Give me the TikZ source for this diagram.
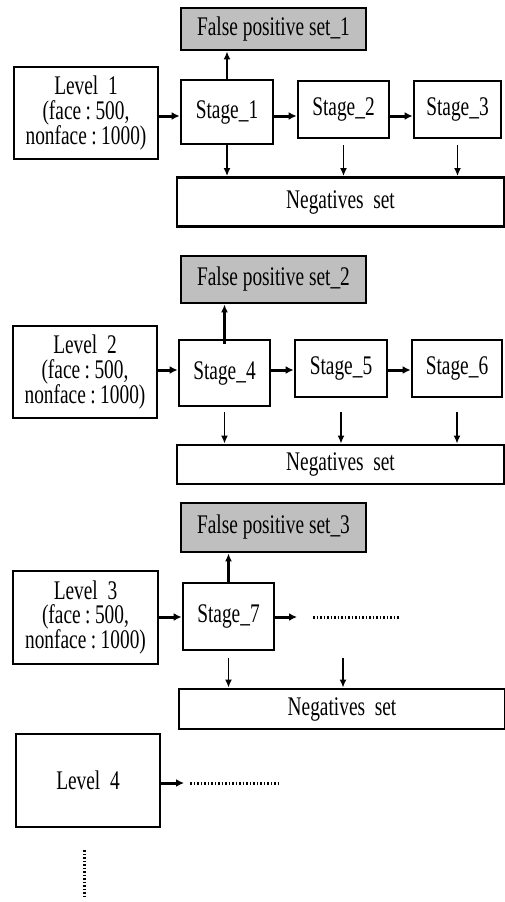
\documentclass[tikz,border=0pt]{standalone}
\usepackage{fontspec}
\setmainfont{Liberation Serif}[FakeStretch=0.72]
\usetikzlibrary{positioning}
\usetikzlibrary{arrows.meta}
\tikzset{blk/.style={draw,line width=2.8bp,inner sep=0pt,align=center,font=\fontsize{27}{25}\selectfont}}
\tikzset{fpblk/.style={blk,fill=gray!50}}
\tikzset{fwd/.style={-{Latex[length=8bp,width=8bp]},line width=3bp}}
\tikzset{fpup/.style={-{Latex[length=8bp,width=7bp]},line width=2.2bp}}
\tikzset{negdown/.style={-{Latex[length=8bp,width=7bp]},line width=1.8bp}}
\tikzset{more/.style={line width=3bp,dash pattern=on 1.5bp off 2bp}}

\begin{document}
\begin{tikzpicture}[x=1bp,y=-1bp]
            \useasboundingbox (0,0) rectangle (505,902);
            % level 1
            \node [fpblk,minimum width=185bp,minimum height=42bp] (fpi) at (273.5,29) {False positive set\_1};
            \node [blk,minimum width=144bp,minimum height=92bp] (levi) at (86,113) {Level~~1\\(face\,:\,500,\\nonface\,:\,1000)};
            \node [blk,minimum width=92bp,minimum height=64bp] (si) at (227,112) {Stage\_1};
            \node [blk,minimum width=91bp,minimum height=57bp] (sii) at (343.5,109.5) {Stage\_2};
            \node [blk,minimum width=87bp,minimum height=57bp] (siii) at (457.5,109.5) {Stage\_3};
            \node [blk,minimum width=327bp,minimum height=49bp] (negi) at (340.5,202) {Negatives~~set};
            \coordinate (ri) at (0,116);
            \draw[fwd] (levi.east |- ri) -- (si.west |- ri);
            \draw[fwd] (si.east |- ri) -- (sii.west |- ri);
            \draw[fwd] (sii.east |- ri) -- (siii.west |- ri);
            \draw[fpup] (si.north) -- (fpi.south -| si.north);
            \draw[negdown] (si.south) -- (negi.north -| si.south);
            \draw[negdown] (sii.south |- si.south) -- (negi.north -| sii.south);
            \draw[negdown] (siii.south |- si.south) -- (negi.north -| siii.south);

            % level 2
            \node [fpblk,minimum width=185bp,minimum height=47bp] (fpii) at (273.5,279.5) {False positive set\_2};
            \node [blk,minimum width=144bp,minimum height=92bp] (levii) at (85,372) {Level~~2\\(face\,:\,500,\\nonface\,:\,1000)};
            \node [blk,minimum width=91bp,minimum height=66bp] (siv) at (224.5,373) {Stage\_4};
            \node [blk,minimum width=92bp,minimum height=57bp] (sv) at (341,368.5) {Stage\_5};
            \node [blk,minimum width=90bp,minimum height=57bp] (svi) at (457,368.5) {Stage\_6};
            \node [blk,minimum width=327bp,minimum height=39bp] (negii) at (340.5,464.5) {Negatives~~set};
            \coordinate (rii) at (0,370);
            \draw[fwd] (levii.east |- rii) -- (siv.west |- rii);
            \draw[fwd] (siv.east |- rii) -- (sv.west |- rii);
            \draw[fwd] (sv.east |- rii) -- (svi.west |- rii);
            \coordinate (dii) at (0,412);
            \draw[fpup] ([yshift=-5bp]siv.north) -- (fpii.south -| siv.north);
            \draw[negdown] (siv.south |- dii) -- (negii.north -| siv.south);
            \draw[negdown] (sv.south |- dii) -- (negii.north -| sv.south);
            \draw[negdown] (svi.south |- dii) -- (negii.north -| svi.south);

            % level 3
            \node [fpblk,minimum width=185bp,minimum height=49bp] (fpiii) at (273.5,527.5) {False positive set\_3};
            \node [blk,minimum width=145bp,minimum height=93bp] (leviii) at (85.5,617.5) {Level~~3\\(face\,:\,500,\\nonface\,:\,1000)};
            \node [blk,minimum width=91bp,minimum height=67bp] (svii) at (228.5,616.5) {Stage\_7};
            \node [blk,minimum width=326bp,minimum height=40bp] (negiii) at (342,709) {Negatives~~set};
            \coordinate (riii) at (0,617);
            \coordinate (tiii) at (297,617);
            \coordinate (uiii) at (313,617);
            \coordinate (viii) at (400,617);
            \coordinate (wiii) at (343,658);
            \draw[fwd] (leviii.east |- riii) -- (svii.west |- riii);
            \draw[fwd] (svii.east |- riii) -- (tiii);
            \draw[more] (uiii) -- (viii);
            \draw[fpup] (svii.north) -- (fpiii.south -| svii.north);
            \draw[negdown] (svii.south |- wiii) -- (negiii.north -| svii.south);
            \draw[negdown] (wiii) -- (negiii.north -| wiii);

            % level 4
            \node [blk,minimum width=144bp,minimum height=93bp] (leviv) at (88,780.5) {Level~~4};
            \coordinate (tiv) at (184,783);
            \coordinate (uiv) at (190,783);
            \coordinate (viv) at (278,783);
            \coordinate (pa) at (84,850);
            \coordinate (pb) at (84,898);
            \draw[fwd] (leviv.east |- tiv) -- (tiv);
            \draw[more] (uiv) -- (viv);
            \draw[more] (pa) -- (pb);
        \end{tikzpicture}
\end{document}
